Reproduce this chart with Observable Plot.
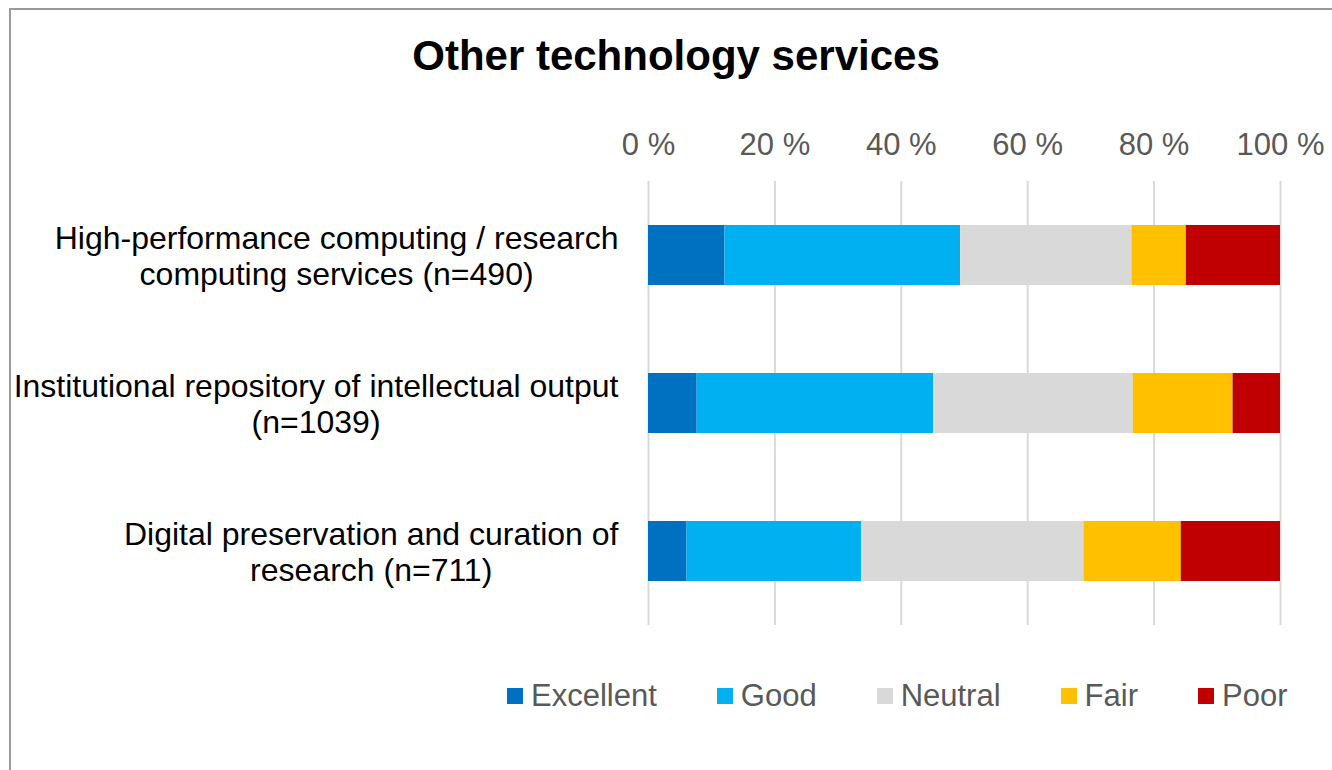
<!DOCTYPE html>
<html>
<head>
<meta charset="utf-8">
<script src="https://cdn.jsdelivr.net/npm/d3@7"></script>
<script src="https://cdn.jsdelivr.net/npm/@observablehq/plot@0.6"></script>
<style>
  html, body { margin: 0; padding: 0; background: #fff; width: 1332px; height: 770px; overflow: hidden; position: relative; font-family: "Liberation Sans", Arial, sans-serif; }
  #frame { position: absolute; left: 9px; top: 8px; width: 1400px; height: 800px; border-left: 2px solid #9a9a9a; border-top: 2px solid #9a9a9a; box-sizing: border-box; }
  #title { position: absolute; left: 10px; width: 1332px; top: 35px; text-align: center; font-size: 42px; line-height: 1; font-weight: bold; color: #000; }
  #chart { position: absolute; left: 0; top: 100px; }
  #legend { position: absolute; left: 507px; top: 677px; display: flex; gap: 60px; align-items: center; font-size: 31px; color: #595959; line-height: 1.2; }
  .item { display: flex; align-items: center; }
  .sw { width: 16px; height: 16px; margin-right: 8px; }
</style>
</head>
<body>
<div id="frame"></div>
<div id="title">Other technology services</div>
<div id="chart"></div>
<div id="legend"></div>
<script>
const categories = [
  "High-performance computing / research computing services (n=490)",
  "Institutional repository of intellectual output (n=1039)",
  "Digital preservation and curation of research (n=711)"
];
const categoryLabels = [
  "High-performance computing / research\ncomputing services (n=490)",
  "Institutional repository of intellectual output\n(n=1039)",
  "Digital preservation and curation of\nresearch (n=711)"
];
const ratings = ["Excellent", "Good", "Neutral", "Fair", "Poor"];
const colors = ["#0070C0", "#00B0F0", "#D9D9D9", "#FFC000", "#C00000"];
const excellent = [12.1, 7.7, 6.1];
const good = [37.3, 37.4, 27.6];
const neutral = [27.1, 31.6, 35.2];
const fair = [8.6, 15.8, 15.4];
const poor = [14.9, 7.5, 15.7];
const xTicks = [0, 20, 40, 60, 80, 100];

const seriesValues = [excellent, good, neutral, fair, poor];
const data = [];
categories.forEach((c, i) => {
  ratings.forEach((r, j) => data.push({category: c, rating: r, value: seriesValues[j][i]}));
});
const labelOf = new Map(categories.map((c, i) => [c, categoryLabels[i]]));

const plot = Plot.plot({
  width: 1332,
  height: 540,
  marginTop: 81,
  marginBottom: 15,
  marginLeft: 648,
  marginRight: 52,
  style: {fontFamily: "Liberation Sans, Arial, sans-serif", background: "transparent"},
  x: {domain: [0, 100]},
  y: {domain: categories, paddingInner: 0.595, paddingOuter: 0.297},
  color: {domain: ratings, range: colors},
  marks: [
    Plot.gridX(xTicks, {stroke: "#D9D9D9", strokeWidth: 2, strokeOpacity: 1}),
    Plot.barX(data, Plot.stackX({x: "value", y: "category", fill: "rating", order: ratings})),
    Plot.axisX({anchor: "top", ticks: xTicks, tickSize: 0, tickPadding: 27, tickFormat: d => d + " %", fontSize: 31, fill: "#595959", label: null}),
    Plot.axisY({anchor: "left", tickSize: 0, tickPadding: 30, tickFormat: d => labelOf.get(d), fontSize: 32, fill: "#000", lineHeight: 1.13, label: null})
  ]
});
document.getElementById("chart").appendChild(plot);

// center each line of the multi-line category labels within its block (block right-aligned)
d3.select(plot).selectAll('g[aria-label="y-axis tick label"] text').each(function() {
  const w = this.getBBox().width;
  this.setAttribute("text-anchor", "middle");
  const spans = this.querySelectorAll("tspan");
  if (spans.length) spans.forEach(s => s.setAttribute("x", -w / 2));
  else this.setAttribute("x", -w / 2);
});

const legend = d3.select("#legend");
ratings.forEach((r, i) => {
  const it = legend.append("div").attr("class", "item");
  it.append("div").attr("class", "sw").style("background", colors[i]);
  it.append("span").text(r);
});
</script>
</body>
</html>
